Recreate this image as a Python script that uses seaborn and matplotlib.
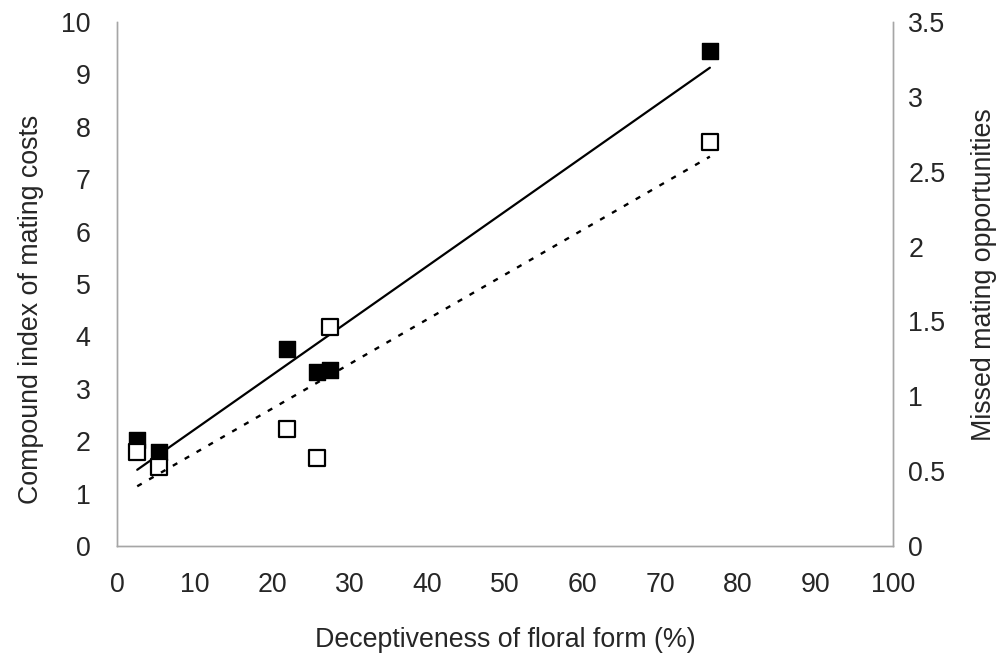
import matplotlib
matplotlib.use("Agg")
import matplotlib.pyplot as plt
import seaborn as sns
import numpy as np
import pandas as pd

# Data
deceptiveness = [2.6, 5.4, 21.9, 25.8, 27.5, 76.4]
compound_index = [2.02, 1.79, 3.76, 3.32, 3.36, 9.45]
missed_opportunities = [0.63, 0.53, 0.78, 0.59, 1.46, 2.70]

x_ticks = [0, 10, 20, 30, 40, 50, 60, 70, 80, 90, 100]
left_ticks = [0, 1, 2, 3, 4, 5, 6, 7, 8, 9, 10]
right_ticks = [0, 0.5, 1, 1.5, 2, 2.5, 3, 3.5]
right_tick_labels = ["0", "0.5", "1", "1.5", "2", "2.5", "3", "3.5"]

df = pd.DataFrame({"x": deceptiveness, "ci": compound_index, "mo": missed_opportunities})

sns.set_style("white")
plt.rcParams["font.family"] = ["Liberation Sans", "DejaVu Sans"]

FS = 19.3

fig = plt.figure(figsize=(9.97, 6.6), dpi=100)
ax = fig.add_axes([0.1174, 0.1727, 0.7783, 0.794])
ax2 = ax.twinx()

sns.regplot(data=df, x="x", y="ci", ax=ax, ci=None, marker="s",
            scatter_kws=dict(s=130, color="black", edgecolors="black", linewidths=1.0, alpha=1),
            line_kws=dict(color="black", lw=1.6))
sns.regplot(data=df, x="x", y="mo", ax=ax2, ci=None, marker="s",
            scatter_kws=dict(s=120, facecolors="white", edgecolors="black", linewidths=1.6, alpha=1),
            line_kws=dict(color="black", lw=1.7, linestyle=(0, (2.2, 3.6))))

ax.set_xlim(0, 100)
ax.set_ylim(0, 10)
ax2.set_ylim(0, 3.5)
ax.set_xticks(x_ticks)
ax.set_yticks(left_ticks)
ax2.set_yticks(right_ticks)
ax2.set_yticklabels(right_tick_labels)

spine_color = "#a6a6a6"
for a in (ax, ax2):
    a.spines["top"].set_visible(False)
    for s in ("left", "right", "bottom"):
        a.spines[s].set_color(spine_color)
        a.spines[s].set_linewidth(1.0)
    a.grid(False)

ax.tick_params(axis="x", direction="in", length=6, color=spine_color, pad=19, labelsize=FS)
ax.tick_params(axis="y", length=0, pad=19, labelsize=FS)
ax2.tick_params(axis="y", length=0, pad=11, labelsize=FS)

ax.set_xlabel("Deceptiveness of floral form (%)", fontsize=FS)
ax.set_ylabel("Compound index of mating costs", fontsize=FS)
ax2.set_ylabel("Missed mating opportunities", fontsize=FS, rotation=90)
ax.xaxis.set_label_coords(0.5, -0.155)
ax.yaxis.set_label_coords(-0.094, 0.452)
ax2.yaxis.set_label_coords(1.1005, 0.517)

fig.savefig("out.png", dpi=100)
